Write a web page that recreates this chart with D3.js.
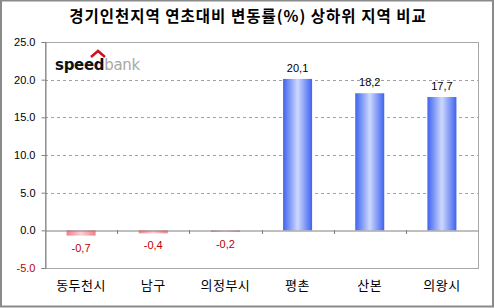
<!DOCTYPE html>
<html><head><meta charset="utf-8">
<script src="https://cdn.jsdelivr.net/npm/d3@7"></script>
<style>html,body{margin:0;padding:0;background:#fff;}svg{display:block;}</style>
</head><body>
<script>
const title = "경기인천지역 연초대비 변동률(%) 상하위 지역 비교";
const categories = ["동두천시","남구","의정부시","평촌","산본","의왕시"];
const values = [-0.7,-0.4,-0.2,20.1,18.2,17.7];
const valueLabels = ["-0,7","-0,4","-0,2","20,1","18,2","17,7"];
const yTicks = [-5,0,5,10,15,20,25];

const W=495,H=308;
const m={left:45,right:17,top:42,bottom:40};
const svg=d3.select("body").append("svg").attr("width",W).attr("height",H);
const defs=svg.append("defs");
function grad(id,edge,mid){
  const g=defs.append("linearGradient").attr("id",id).attr("x1","0%").attr("x2","100%");
  g.append("stop").attr("offset","0%").attr("stop-color",edge);
  g.append("stop").attr("offset","50%").attr("stop-color",mid);
  g.append("stop").attr("offset","100%").attr("stop-color",edge);
}
grad("gPos","#3f63f0","#cdd8fc");
grad("gNeg","#f07f8c","#fbd0d6");

svg.append("rect").attr("x",1).attr("y",0.5).attr("width",W-3).attr("height",H-2)
  .attr("fill","#fff").attr("stroke","#8a8a8a").attr("stroke-width",2);

svg.append("text").attr("x",248).attr("y",22).attr("text-anchor","middle")
  .attr("font-family","'Noto Sans CJK KR',sans-serif").attr("font-weight","bold")
  .attr("font-size",15.5).attr("letter-spacing","1").attr("fill","#000").text(title);

const x=d3.scaleBand().domain(categories).range([m.left,W-m.right]).paddingInner(0).paddingOuter(0);
const y=d3.scaleLinear().domain([-5,25]).range([268,42]);

// plot border
svg.append("rect").attr("x",m.left).attr("y",y(25)).attr("width",x.range()[1]-m.left)
  .attr("height",y(-5)-y(25)).attr("fill","none").attr("stroke","#a8a8a8").attr("stroke-width",1)
  .attr("shape-rendering","crispEdges");

// gridlines
svg.append("g").selectAll("line").data([5,10,15,20]).join("line")
  .attr("x1",m.left).attr("x2",x.range()[1]).attr("y1",d=>Math.round(y(d))+0.5).attr("y2",d=>Math.round(y(d))+0.5)
  .attr("stroke","#a0a0a0").attr("stroke-dasharray","3,3");

// y axis
const ya=svg.append("g").attr("transform",`translate(${m.left+0.5},0)`)
  .call(d3.axisLeft(y).tickValues(yTicks).tickFormat(d3.format(".1f")).tickSize(4).tickPadding(6));
ya.select(".domain").attr("stroke","#808080");
ya.selectAll(".tick line").attr("stroke","#808080");
ya.selectAll("text").attr("font-family","'Liberation Sans',Arial,sans-serif").attr("font-size",11)
  .attr("fill",d=>d<0?"#c00000":"#000").text(d=>d3.format(".1f")(d).replace("−","-"));

// bars
const bw=29;
svg.append("g").selectAll("rect").data(values).join("rect")
  .attr("x",(d,i)=>x(categories[i])+x.bandwidth()/2-bw/2)
  .attr("width",bw)
  .attr("y",d=>y(Math.max(0,d)))
  .attr("height",d=>Math.abs(y(d)-y(0)))
  .attr("fill",d=>d<0?"url(#gNeg)":"url(#gPos)");

// zero axis with category ticks
const xa=svg.append("g").attr("transform",`translate(0,${Math.round(y(0))+0.5})`)
  .call(d3.axisBottom(x).tickSize(0).tickFormat(""));
xa.select(".domain").attr("stroke","#808080");
svg.append("g").selectAll("line").data(categories.slice(1)).join("line")
  .attr("x1",d=>Math.round(x(d))+0.5).attr("x2",d=>Math.round(x(d))+0.5)
  .attr("y1",Math.round(y(0))).attr("y2",Math.round(y(0))+4).attr("stroke","#808080");

// value labels
svg.append("g").selectAll("text").data(values).join("text")
  .attr("x",(d,i)=>x(categories[i])+x.bandwidth()/2)
  .attr("y",d=>d<0?y(d)+16:y(d)-7)
  .attr("text-anchor","middle").attr("font-family","'Liberation Sans',Arial,sans-serif")
  .attr("font-size",11).attr("fill",d=>d<0?"#c00000":"#000")
  .text((d,i)=>valueLabels[i]);

// category labels
svg.append("g").selectAll("text").data(categories).join("text")
  .attr("x",d=>x(d)+x.bandwidth()/2).attr("y",290)
  .attr("text-anchor","middle").attr("font-family","'Noto Sans CJK KR',sans-serif")
  .attr("font-size",13).attr("letter-spacing","0.5").attr("fill","#000").text(d=>d);

// logo
const lg=svg.append("g");
lg.append("text").attr("x",55).attr("y",70).attr("font-family","'DejaVu Sans',sans-serif")
  .attr("font-weight","bold").attr("font-size",15).attr("letter-spacing","-0.3")
  .append("tspan").attr("fill","#111").text("speed")
  .select(function(){return this.parentNode;})
  .append("tspan").attr("fill","#a8a8a8").attr("font-weight","normal").text("bank");
lg.append("path").attr("d","M91,57 L98,51 L105,57").attr("fill","none").attr("stroke","#d01020").attr("stroke-width",2.5);
</script>
</body></html>
